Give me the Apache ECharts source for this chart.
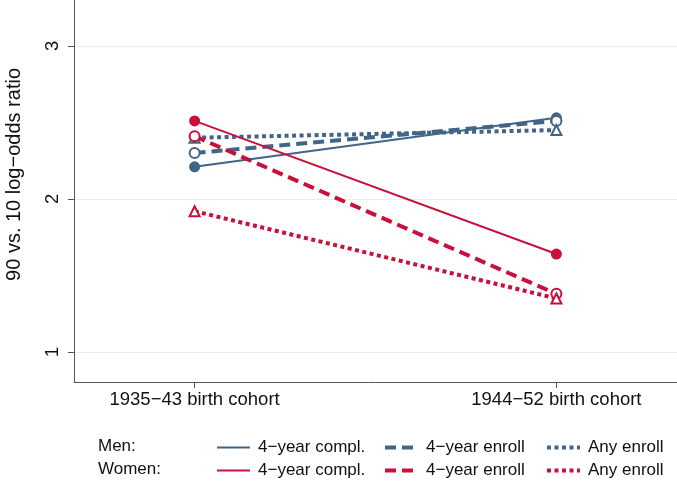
<!DOCTYPE html>
<html>
<head>
<meta charset="utf-8">
<script src="https://cdn.jsdelivr.net/npm/echarts@6/dist/echarts.min.js"></script>
<style>
html,body{margin:0;padding:0;background:#fff;}
#chart{width:677px;height:482px;}
</style>
</head>
<body>
<div id="chart"></div>
<script>
const cohorts = ['1935−43 birth cohort', '1944−52 birth cohort'];
const yTicks = [1, 2, 3];
const menCompl = [2.21, 2.53];
const menEnroll4 = [2.30, 2.51];
const menAnyEnroll = [2.40, 2.45];
const womenCompl = [2.51, 1.64];
const womenEnroll4 = [2.41, 1.38];
const womenAnyEnroll = [1.92, 1.35];
const measureLabels = ['4−year compl.', '4−year enroll', 'Any enroll'];
const groupLabels = ['Men:', 'Women:'];

const BLUE = '#416586';
const RED = '#c8103a';
const FONT = 'Liberation Sans, Arial, sans-serif';

const toPts = arr => arr.map((v, i) => [i, v]);

const styles = [
  { type: 'solid', width: 2, symbol: 'circle', size: 11 },
  { type: [11, 6], width: 4, symbol: 'emptyCircle', size: 10 },
  { type: [4, 3.5], width: 4, symbol: 'emptyTriangle', size: 10 }
];

const groups = [
  { name: 'Men', color: BLUE, data: [menCompl, menEnroll4, menAnyEnroll] },
  { name: 'Women', color: RED, data: [womenCompl, womenEnroll4, womenAnyEnroll] }
];

const series = [];
const legends = [];
const legendLeft = [216, 383, 545];
const legendTop = [439, 462];
groups.forEach((g, gi) => {
  g.data.forEach((vals, mi) => {
    const st = styles[mi];
    const name = g.name + ' ' + measureLabels[mi];
    series.push({
      name: name,
      type: 'line',
      data: toPts(vals),
      symbol: st.symbol,
      symbolSize: st.size,
      z: 2 + gi,
      lineStyle: { color: g.color, width: st.width, type: st.type, cap: 'butt' },
      itemStyle: { color: g.color, borderColor: g.color, borderWidth: st.symbol === 'circle' ? 0 : 2 },
      emphasis: { disabled: true },
      animation: false
    });
    legends.push({
      left: legendLeft[mi],
      top: legendTop[gi],
      padding: 0,
      itemWidth: 33,
      itemHeight: 16,
      selectedMode: false,
      data: [name],
      formatter: n => measureLabels[mi],
      itemStyle: { opacity: 0 },
      lineStyle: { color: g.color, width: st.width, type: st.type, cap: 'butt' },
      textStyle: { fontFamily: FONT, fontSize: 17, color: '#111', padding: [0, 0, 0, 3] }
    });
  });
});

const chart = echarts.init(document.getElementById('chart'), null, { renderer: 'canvas' });
chart.setOption({
  backgroundColor: '#fff',
  animation: false,
  grid: { left: 74, right: 0, top: 0, bottom: 100 },
  xAxis: {
    type: 'value',
    min: -1 / 3,
    max: 4 / 3,
    axisLine: { onZero: false, lineStyle: { color: '#555', width: 1 } },
    axisTick: { show: true, customValues: [0, 1], length: 6, lineStyle: { color: '#555' } },
    axisLabel: {
      customValues: [0, 1],
      formatter: v => cohorts[Math.round(v)],
      fontFamily: FONT, fontSize: 18.5, color: '#111', margin: 8
    },
    splitLine: { show: false }
  },
  yAxis: {
    type: 'value',
    min: 0.804,
    max: 3.3,
    axisLine: { show: true, onZero: false, lineStyle: { color: '#555', width: 1 } },
    axisTick: { show: true, customValues: yTicks, length: 6, lineStyle: { color: '#555' } },
    axisLabel: {
      customValues: yTicks,
      rotate: 90,
      fontFamily: FONT, fontSize: 18.5, color: '#111', margin: 12
    },
    splitLine: { show: true, lineStyle: { color: '#e6eff1', width: 1 } }
  },
  legend: legends,
  graphic: [
    {
      type: 'text', left: 4, top: 68,
      rotation: Math.PI / 2,
      style: { text: '90 vs. 10 log−odds ratio', fontFamily: FONT, fontSize: 20, fill: '#111' }
    },
    { type: 'text', left: 98, top: 438, style: { text: groupLabels[0], fontFamily: FONT, fontSize: 17, fill: '#111' } },
    { type: 'text', left: 98, top: 461, style: { text: groupLabels[1], fontFamily: FONT, fontSize: 17, fill: '#111' } }
  ],
  series: series
});
</script>
</body>
</html>
